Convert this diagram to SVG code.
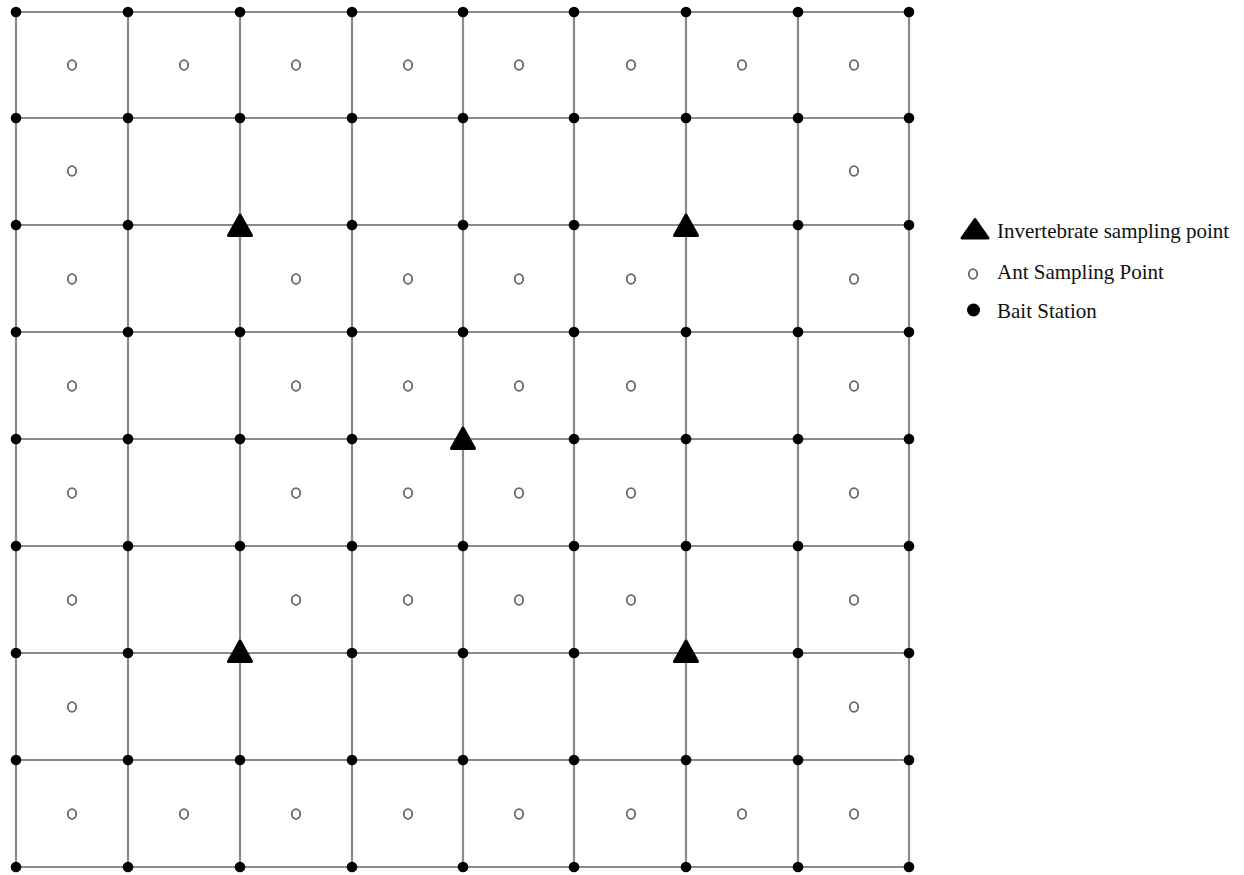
<svg xmlns="http://www.w3.org/2000/svg" xmlns:xlink="http://www.w3.org/1999/xlink" width="1244" height="875" viewBox="0 0 1244 875">
<style>
.grid line{stroke:#8a8a8a;stroke-width:2.2}
.bait{fill:#000}
.ant{fill:#fff;stroke:#666;stroke-width:1.8}
.inv{fill:#000;stroke:#000;stroke-width:3;stroke-linejoin:round}
.lbl{font-family:"Liberation Serif",serif;font-size:21px;fill:#111}
</style>
<defs>
<circle id="b" r="5.3" class="bait"/>
<ellipse id="a" rx="4.2" ry="4.8" class="ant"/>
<path id="t" d="M0,-11 L11.5,9.5 L-11.5,9.5 Z" class="inv"/>
</defs>
<rect width="1244" height="875" fill="#fff"/>
<g id="connectors" class="grid">
<line x1="16" y1="12" x2="16" y2="867"/><line x1="128" y1="12" x2="128" y2="867"/><line x1="240" y1="12" x2="240" y2="867"/><line x1="352" y1="12" x2="352" y2="867"/><line x1="463" y1="12" x2="463" y2="867"/><line x1="574" y1="12" x2="574" y2="867"/><line x1="686" y1="12" x2="686" y2="867"/><line x1="798" y1="12" x2="798" y2="867"/><line x1="909" y1="12" x2="909" y2="867"/>
<line x1="16" y1="12" x2="909" y2="12"/><line x1="16" y1="118" x2="909" y2="118"/><line x1="16" y1="225" x2="909" y2="225"/><line x1="16" y1="332" x2="909" y2="332"/><line x1="16" y1="439" x2="909" y2="439"/><line x1="16" y1="546" x2="909" y2="546"/><line x1="16" y1="653" x2="909" y2="653"/><line x1="16" y1="760" x2="909" y2="760"/><line x1="16" y1="867" x2="909" y2="867"/>
</g>
<g id="bait-stations">
<use href="#b" x="16" y="12"/><use href="#b" x="128" y="12"/><use href="#b" x="240" y="12"/><use href="#b" x="352" y="12"/><use href="#b" x="463" y="12"/><use href="#b" x="574" y="12"/><use href="#b" x="686" y="12"/><use href="#b" x="798" y="12"/><use href="#b" x="909" y="12"/>
<use href="#b" x="16" y="118"/><use href="#b" x="128" y="118"/><use href="#b" x="240" y="118"/><use href="#b" x="352" y="118"/><use href="#b" x="463" y="118"/><use href="#b" x="574" y="118"/><use href="#b" x="686" y="118"/><use href="#b" x="798" y="118"/><use href="#b" x="909" y="118"/>
<use href="#b" x="16" y="225"/><use href="#b" x="128" y="225"/><use href="#b" x="352" y="225"/><use href="#b" x="463" y="225"/><use href="#b" x="574" y="225"/><use href="#b" x="798" y="225"/><use href="#b" x="909" y="225"/>
<use href="#b" x="16" y="332"/><use href="#b" x="128" y="332"/><use href="#b" x="240" y="332"/><use href="#b" x="352" y="332"/><use href="#b" x="463" y="332"/><use href="#b" x="574" y="332"/><use href="#b" x="686" y="332"/><use href="#b" x="798" y="332"/><use href="#b" x="909" y="332"/>
<use href="#b" x="16" y="439"/><use href="#b" x="128" y="439"/><use href="#b" x="240" y="439"/><use href="#b" x="352" y="439"/><use href="#b" x="574" y="439"/><use href="#b" x="686" y="439"/><use href="#b" x="798" y="439"/><use href="#b" x="909" y="439"/>
<use href="#b" x="16" y="546"/><use href="#b" x="128" y="546"/><use href="#b" x="240" y="546"/><use href="#b" x="352" y="546"/><use href="#b" x="463" y="546"/><use href="#b" x="574" y="546"/><use href="#b" x="686" y="546"/><use href="#b" x="798" y="546"/><use href="#b" x="909" y="546"/>
<use href="#b" x="16" y="653"/><use href="#b" x="128" y="653"/><use href="#b" x="352" y="653"/><use href="#b" x="463" y="653"/><use href="#b" x="574" y="653"/><use href="#b" x="798" y="653"/><use href="#b" x="909" y="653"/>
<use href="#b" x="16" y="760"/><use href="#b" x="128" y="760"/><use href="#b" x="240" y="760"/><use href="#b" x="352" y="760"/><use href="#b" x="463" y="760"/><use href="#b" x="574" y="760"/><use href="#b" x="686" y="760"/><use href="#b" x="798" y="760"/><use href="#b" x="909" y="760"/>
<use href="#b" x="16" y="867"/><use href="#b" x="128" y="867"/><use href="#b" x="240" y="867"/><use href="#b" x="352" y="867"/><use href="#b" x="463" y="867"/><use href="#b" x="574" y="867"/><use href="#b" x="686" y="867"/><use href="#b" x="798" y="867"/><use href="#b" x="909" y="867"/>
</g>
<g id="ant-points">
<use href="#a" x="72" y="65"/><use href="#a" x="184" y="65"/><use href="#a" x="296" y="65"/><use href="#a" x="408" y="65"/><use href="#a" x="519" y="65"/><use href="#a" x="631" y="65"/><use href="#a" x="742" y="65"/><use href="#a" x="854" y="65"/>
<use href="#a" x="72" y="171"/><use href="#a" x="854" y="171"/>
<use href="#a" x="72" y="279"/><use href="#a" x="296" y="279"/><use href="#a" x="408" y="279"/><use href="#a" x="519" y="279"/><use href="#a" x="631" y="279"/><use href="#a" x="854" y="279"/>
<use href="#a" x="72" y="386"/><use href="#a" x="296" y="386"/><use href="#a" x="408" y="386"/><use href="#a" x="519" y="386"/><use href="#a" x="631" y="386"/><use href="#a" x="854" y="386"/>
<use href="#a" x="72" y="493"/><use href="#a" x="296" y="493"/><use href="#a" x="408" y="493"/><use href="#a" x="519" y="493"/><use href="#a" x="631" y="493"/><use href="#a" x="854" y="493"/>
<use href="#a" x="72" y="600"/><use href="#a" x="296" y="600"/><use href="#a" x="408" y="600"/><use href="#a" x="519" y="600"/><use href="#a" x="631" y="600"/><use href="#a" x="854" y="600"/>
<use href="#a" x="72" y="707"/><use href="#a" x="854" y="707"/>
<use href="#a" x="72" y="814"/><use href="#a" x="184" y="814"/><use href="#a" x="296" y="814"/><use href="#a" x="408" y="814"/><use href="#a" x="519" y="814"/><use href="#a" x="631" y="814"/><use href="#a" x="742" y="814"/><use href="#a" x="854" y="814"/>
</g>
<g id="invertebrate-points">
<use href="#t" x="240" y="226"/><use href="#t" x="686" y="226"/><use href="#t" x="463" y="439"/><use href="#t" x="240" y="652"/><use href="#t" x="686" y="652"/>
</g>
<g id="legend">
<path d="M0,-9.5 L13,9 L-13,9 Z" class="inv" transform="translate(975,229)"/>
<text class="lbl" x="997" y="238">Invertebrate sampling point</text>
<use href="#a" x="973" y="274"/>
<text class="lbl" x="997" y="279">Ant Sampling Point</text>
<circle cx="973.5" cy="310" r="6.5" class="bait"/>
<text class="lbl" x="997" y="318">Bait Station</text>
</g>
</svg>
